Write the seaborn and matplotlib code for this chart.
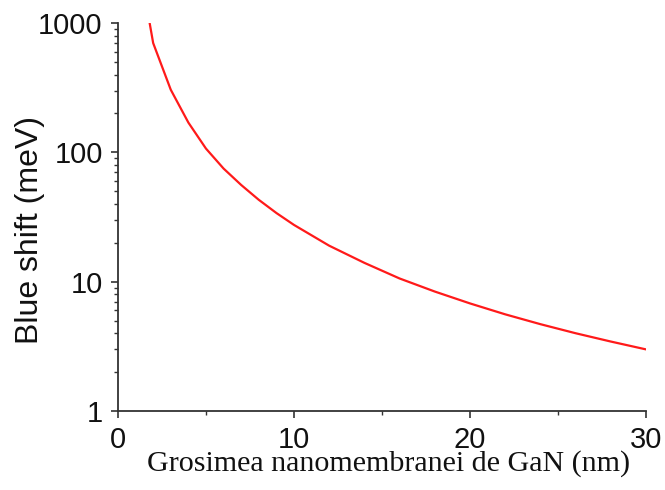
import matplotlib
matplotlib.use("Agg")
import matplotlib.pyplot as plt
import seaborn as sns
import pandas as pd
from matplotlib.ticker import LogLocator, FixedLocator, NullFormatter

thickness_nm = [1.8, 2.0, 3.0, 4.0, 5.0, 6.0, 7.0, 8.0, 9.0, 10.0, 12.0, 14.0,
                16.0, 18.0, 20.0, 22.0, 24.0, 26.0, 28.0, 30.0]
blue_shift_mev = [1000, 700, 305, 170, 107, 75, 56, 43, 34, 27.5, 19, 14,
                  10.6, 8.4, 6.8, 5.6, 4.7, 4.0, 3.45, 3.0]
x_ticks = [0, 10, 20, 30]
y_ticks = [1, 10, 100, 1000]
y_tick_labels = ["1", "10", "100", "1000"]

df = pd.DataFrame({"d": thickness_nm, "shift": blue_shift_mev})

sns.set_style("ticks")
plt.rcParams["font.family"] = ["Liberation Sans", "DejaVu Sans"]

fig = plt.figure(figsize=(6.65, 4.9), dpi=100)
ax = fig.add_axes([0.1774, 0.161, 0.7940, 0.792])

sns.lineplot(data=df, x="d", y="shift", ax=ax, color="#ff1a1a", linewidth=1.6)

ax.set_yscale("log")
ax.set_xlim(0, 30)
ax.set_ylim(1, 1000)

ax.xaxis.set_major_locator(FixedLocator(x_ticks))
ax.xaxis.set_minor_locator(FixedLocator([5, 15, 25]))
ax.set_xticklabels([str(t) for t in x_ticks])
ax.yaxis.set_major_locator(FixedLocator(y_ticks))
ax.set_yticklabels(y_tick_labels)
ax.yaxis.set_minor_locator(LogLocator(base=10, subs=range(2, 10)))
ax.yaxis.set_minor_formatter(NullFormatter())

for s in ["top", "right"]:
    ax.spines[s].set_visible(False)
for s in ["left", "bottom"]:
    ax.spines[s].set_linewidth(1.3)
    ax.spines[s].set_color("#333333")

ax.tick_params(axis="both", which="major", length=5, width=1.2, color="#333333",
               labelsize=21, labelcolor="#111111")
ax.tick_params(axis="y", which="major", pad=6)
ax.tick_params(axis="x", which="major", pad=6)
ax.tick_params(axis="both", which="minor", length=3, width=1.0, color="#333333")

ax.set_ylabel("Blue shift (meV)", fontsize=23, color="#111111")
ax.yaxis.set_label_coords(-0.138, 0.466)
ax.set_xlabel("Grosimea nanomembranei de GaN (nm)", fontsize=21.6,
              family=["Liberation Serif", "DejaVu Serif"], color="#111111")
ax.xaxis.set_label_coords(0.513, -0.101)

fig.savefig("out.png", dpi=100, facecolor="white")
